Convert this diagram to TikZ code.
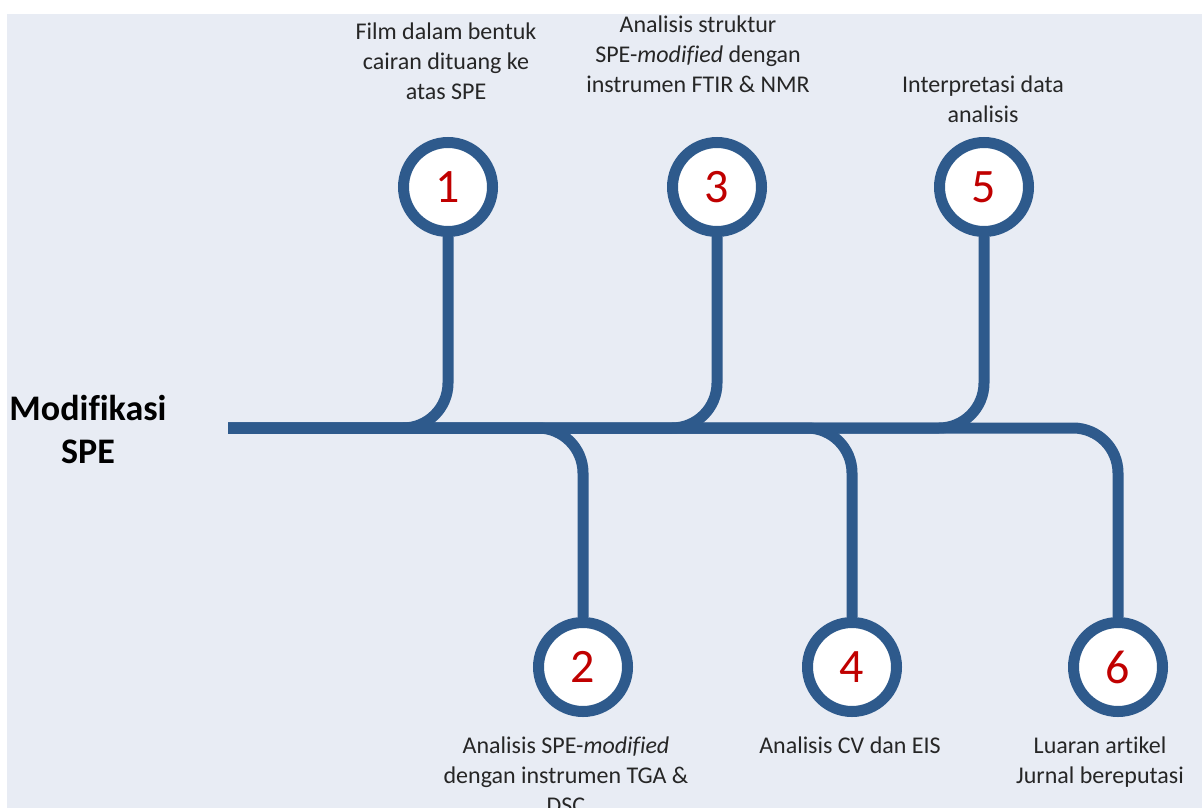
\documentclass[tikz,border=0pt]{standalone}
\usepackage{fontspec}
\setmainfont{Carlito}[Ligatures=NoCommon]
\definecolor{bg}{HTML}{E8ECF4}
\definecolor{lineblue}{HTML}{2E5A8C}
\definecolor{numred}{HTML}{C00000}
\definecolor{txt}{HTML}{262626}
\begin{document}
\begin{tikzpicture}[x=1pt,y=-1pt,
  ring/.style={circle,draw=lineblue,line width=11pt,fill=white,minimum size=89pt,inner sep=0pt,font=\fontsize{48}{48}\selectfont,text=numred},
  conn/.style={draw=lineblue,line width=11pt,rounded corners=45pt},
  lbl/.style={align=center,font=\fontsize{24}{30}\selectfont,text=txt,inner sep=0pt,anchor=north},
  ttl/.style={align=center,font=\fontsize{36}{43}\selectfont\bfseries,text=black,inner sep=0pt,anchor=north}]
\useasboundingbox (0,0) rectangle (1202,808);
\fill[bg] (7,14) rectangle (1202,808);
\clip (0,0) rectangle (1202,808);
\coordinate (s) at (228,428);
\node[ring] (c1) at (448,187) {1};
\node[ring] (c3) at (717,187) {3};
\node[ring] (c5) at (984,187) {5};
\node[ring] (c2) at (583,667) {2};
\node[ring] (c4) at (852,667) {4};
\node[ring] (c6) at (1118,667) {6};
\draw[conn] (c1.south) |- (s);
\draw[conn] (c3.south) |- (s);
\draw[conn] (c5.south) |- (s);
\draw[conn] (s) -| (c2.north);
\draw[conn] (s) -| (c4.north);
\draw[conn] (s) -| (c6.north);
\node[ttl] (title) at (88,395) {Modifikasi\\SPE};
\node[lbl] (l1) at (446,23) {Film dalam bentuk\\cairan dituang ke\\atas SPE};
\node[lbl] (l3) at (698,16) {Analisis struktur\\SPE-\textit{modified} dengan\\instrumen FTIR \& NMR};
\node[lbl] (l5) at (983,76) {Interpretasi data\\analisis};
\node[lbl] (l2) at (566,737) {Analisis SPE-\textit{modified}\\dengan instrumen TGA \&\\DSC};
\node[lbl] (l4) at (850,737) {Analisis CV dan EIS};
\node[lbl] (l6) at (1100,737) {Luaran artikel\\Jurnal bereputasi};
\end{tikzpicture}
\end{document}
